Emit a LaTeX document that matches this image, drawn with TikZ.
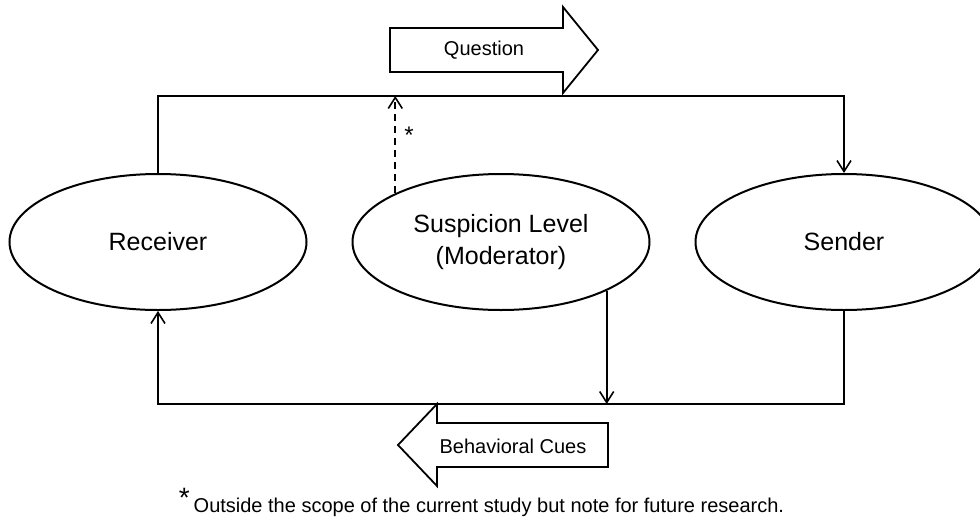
\documentclass[tikz,border=0pt]{standalone}
\usepackage{fontspec}
\setmainfont{Liberation Sans}
\usetikzlibrary{arrows.meta, positioning, shapes.geometric}

\begin{document}
\begin{tikzpicture}[
            x = 1pt, y = -1pt, % one unit per pixel, y going down
            > = {Straight Barb[length=11pt, width=14pt]}, % arrow head style
            line width = 1.6pt, % line style
            node distance = 44pt % gap between the ellipses
        ]

        \tikzstyle{party}=[
            ellipse,
            draw = black,
            line width = 2pt,
            minimum width = 297pt,
            minimum height = 136pt,
            inner sep = 0pt,
            align = center,
            font = \fontsize{25}{32}\selectfont
        ]
        \tikzstyle{blockarrow}=[
            draw = black,
            line width = 1.8pt,
            fill = white
        ]
        \tikzstyle{arrowtext}=[font = \fontsize{20}{24}\selectfont]

        \useasboundingbox (0,0) rectangle (980,525);

        \node[party] (receiver) at (158,242) {Receiver};
        \node[party] (moderator) [right = of receiver] {Suspicion Level\\(Moderator)};
        \node[party] (sender) [right = of moderator] {Sender};

        \coordinate (top) at (0,96);
        \coordinate (bottom) at (0,404);

        % receiver asks, sender answers
        \draw[->] (receiver.north) |- (sender.north |- top) -- (sender.north);
        \draw[->] (sender.south) |- (receiver.south |- bottom) -- (receiver.south);
        \draw[->] (moderator.south east) -- (moderator.south east |- bottom);
        \draw[->, dash pattern = on 7pt off 5pt] (moderator.north west) -- (moderator.north west |- top)
            node[pos = 0.6, right = 5pt, font = \fontsize{24}{24}\selectfont] (star) {*};

        % block arrows
        \draw[blockarrow] (390,28) -- (563,28) -- (563,7) -- (598,50) -- (563,93) -- (563,72) -- (390,72) -- cycle;
        \draw[blockarrow] (608,423) -- (437,423) -- (437,404) -- (398,445) -- (437,486) -- (437,467) -- (608,467) -- cycle;
        \node[arrowtext] (question) at (484,50) {Question};
        \node[arrowtext] (cues) at (513,446) {Behavioral Cues};

        \node[arrowtext, anchor = base west, inner sep = 0pt] (note) at (178,512)
            {\raisebox{5pt}{\fontsize{28}{28}\selectfont *}\hspace{4pt}Outside the scope of the current study but note for future research.};
    \end{tikzpicture}
\end{document}
